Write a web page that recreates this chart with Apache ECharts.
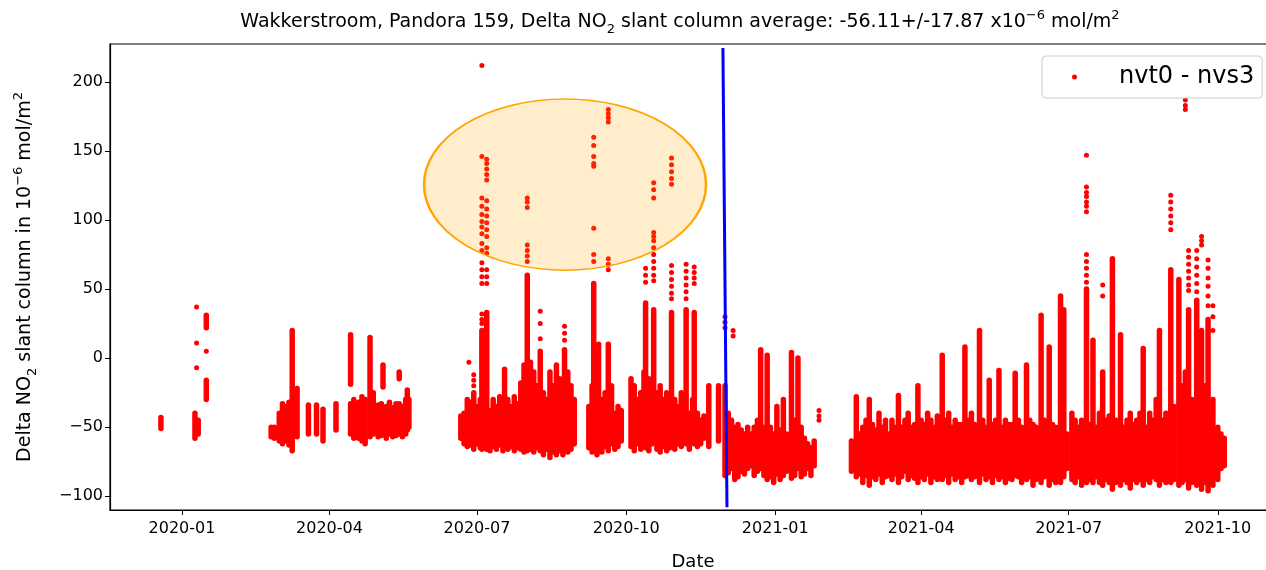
<!DOCTYPE html>
<html><head><meta charset="utf-8">
<script src="https://cdn.jsdelivr.net/npm/echarts@6/dist/echarts.min.js"></script>
<style>html,body{margin:0;padding:0;background:#fff}#c{width:1266px;height:570px}</style>
</head><body><div id="c"></div>
<script>
const seriesName = 'nvt0 - nvs3';
const titleText = '{a|Wakkerstroom, Pandora 159, Delta NO}{b|2}{a| slant column average: -56.11+/-17.87 x10}{p|−6}{a| mol/m}{p|2}';
const yAxisTitle = '{a|Delta NO}{b|2}{a| slant column in 10}{p|−6}{a| mol/m}{p|2}';
const xAxisTitle = 'Date';
const xTickLabels = ['2020-01','2020-04','2020-07','2020-10','2021-01','2021-04','2021-07','2021-10'];
const yTickValues = [-100,-50,0,50,100,150,200];
const xRange = ['2019-11-17T14:00Z','2021-11-05T22:00Z'];
const yRange = [-110, 227.5];

// vertical runs of densely packed measurements: [date, low, high]
const runsEarly = [
 ["2019-12-19",-51,-43],["2020-01-09",-58,-40],["2020-01-11",-55,-45],["2020-01-16",-30,-16],["2020-01-16",22,31],
 ["2020-02-25",-57,-50],["2020-02-27",-58,-50],["2020-03-01",-60,-40],["2020-03-03",-62,-33],["2020-03-05",-60,-35],
 ["2020-03-07",-63,-32],["2020-03-09",-67,20],["2020-03-12",-57,-22],["2020-03-19",-55,-34],["2020-03-24",-55,-34],
 ["2020-03-28",-60,-37],["2020-04-05",-52,-33],["2020-04-14",-19,17],["2020-04-14",-55,-33],["2020-04-16",-58,-30],
 ["2020-04-19",-58,-32],["2020-04-21",-60,-28],["2020-04-23",-62,-30],["2020-04-26",-57,15],["2020-04-28",-55,-25],
 ["2020-05-01",-57,-34],["2020-05-03",-56,-33],["2020-05-04",-21,-5],["2020-05-06",-58,-35],["2020-05-08",-55,-32],
 ["2020-05-10",-57,-36],["2020-05-12",-56,-33],["2020-05-14",-15,-10],["2020-05-14",-55,-33],["2020-05-16",-57,-35],
 ["2020-05-18",-55,-30],["2020-05-19",-52,-23],["2020-05-20",-50,-30]
];
const runsSummer = [
 ["2020-06-21",-58,-42],["2020-06-23",-62,-40],["2020-06-25",-64,-30],["2020-06-27",-63,-32],["2020-06-29",-66,-25],
 ["2020-07-01",-62,-35],["2020-07-03",-65,-30],["2020-07-04",-66,20],["2020-07-06",-65,-35],["2020-07-07",-66,33],
 ["2020-07-09",-67,-38],["2020-07-11",-64,-30],["2020-07-13",-66,-35],["2020-07-15",-63,-28],["2020-07-17",-67,-33],
 ["2020-07-18",-60,-8],["2020-07-20",-66,-30],["2020-07-22",-64,-35],["2020-07-24",-67,-28],["2020-07-26",-65,-33],
 ["2020-07-28",-66,-18],["2020-07-30",-68,-5],["2020-08-01",-67,60],["2020-08-03",-66,-3],["2020-08-05",-68,-10],
 ["2020-08-07",-65,-20],["2020-08-09",-67,5],["2020-08-11",-70,-25],["2020-08-13",-66,-30],["2020-08-15",-72,-10],
 ["2020-08-17",-68,-20],["2020-08-19",-70,-5],["2020-08-21",-67,-15],["2020-08-23",-70,-25],["2020-08-24",-65,6],
 ["2020-08-26",-68,-10],["2020-08-28",-66,-20],["2020-08-30",-62,-30],
 ["2020-09-08",-65,-35],["2020-09-10",-68,-20],["2020-09-11",-66,54],["2020-09-13",-70,-10],["2020-09-14",-66,10],
 ["2020-09-16",-68,-30],["2020-09-18",-64,-25],["2020-09-20",-67,10],["2020-09-22",-62,-20],["2020-09-24",-66,-40],
 ["2020-09-26",-64,-35],["2020-09-28",-60,-38],
 ["2020-10-04",-64,-15],["2020-10-06",-67,-20],["2020-10-08",-62,-30],["2020-10-10",-66,-25],["2020-10-12",-64,-10],
 ["2020-10-13",-65,40],["2020-10-15",-67,-15],["2020-10-17",-62,-17],["2020-10-18",-60,35],["2020-10-20",-66,-25],
 ["2020-10-22",-68,-20],["2020-10-24",-64,-30],["2020-10-26",-67,-25],["2020-10-28",-65,-35],["2020-10-29",-63,33],
 ["2020-10-31",-66,-30],["2020-11-02",-62,-35],["2020-11-04",-64,-25],["2020-11-07",-62,35],["2020-11-09",-66,-40],
 ["2020-11-11",-60,-30],["2020-11-12",-62,33],["2020-11-14",-64,-40],["2020-11-16",-62,-45],["2020-11-18",-58,-42],
 ["2020-11-21",-64,-20],["2020-11-27",-60,-20]
];
const runsWinter = [
 ["2020-12-01",-85,-20],["2020-12-03",-83,-40],["2020-12-05",-80,-45],["2020-12-07",-88,-50],["2020-12-09",-86,-48],
 ["2020-12-11",-82,-52],["2020-12-13",-84,-55],["2020-12-15",-80,-50],["2020-12-17",-78,-55],["2020-12-19",-85,-50],
 ["2020-12-21",-82,-45],["2020-12-23",-80,6],["2020-12-25",-85,-50],["2020-12-27",-88,2],["2020-12-29",-86,-50],
 ["2020-12-31",-90,-55],["2021-01-02",-84,-35],["2021-01-04",-88,-52],["2021-01-06",-85,-30],["2021-01-08",-82,-55],
 ["2021-01-11",-87,4],["2021-01-13",-85,-45],["2021-01-15",-80,0],["2021-01-17",-86,-50],["2021-01-19",-84,-58],
 ["2021-01-21",-80,-62],["2021-01-23",-85,-65],["2021-01-25",-78,-60]
];
const runs2021 = [
 ["2021-02-17",-82,-60],["2021-02-20",-86,-28],["2021-02-22",-84,-55],["2021-02-24",-90,-50],["2021-02-26",-85,-45],
 ["2021-02-28",-92,-30],["2021-03-02",-86,-48],["2021-03-04",-88,-52],["2021-03-06",-84,-40],["2021-03-08",-90,-50],
 ["2021-03-10",-86,-45],["2021-03-12",-85,-55],["2021-03-14",-88,-45],["2021-03-16",-84,-50],["2021-03-18",-90,-27],
 ["2021-03-20",-86,-50],["2021-03-22",-82,-45],["2021-03-24",-88,-40],["2021-03-26",-85,-50],["2021-03-28",-87,-48],
 ["2021-03-30",-90,-20],["2021-04-01",-86,-45],["2021-04-03",-88,-48],["2021-04-05",-84,-40],["2021-04-07",-90,-45],
 ["2021-04-09",-86,-50],["2021-04-11",-88,-42],["2021-04-14",-88,2],["2021-04-16",-85,-45],["2021-04-18",-90,-40],
 ["2021-04-20",-84,-50],["2021-04-22",-88,-45],["2021-04-24",-86,-48],["2021-04-26",-90,-48],["2021-04-28",-86,8],
 ["2021-04-30",-85,-45],["2021-05-02",-88,-40],["2021-05-04",-86,-48],["2021-05-07",-90,20],["2021-05-09",-84,-45],
 ["2021-05-11",-88,-50],["2021-05-13",-86,-16],["2021-05-15",-90,-48],["2021-05-17",-85,-45],["2021-05-19",-88,-9],
 ["2021-05-21",-86,-50],["2021-05-23",-90,-45],["2021-05-25",-87,-48],["2021-05-27",-88,-48],["2021-05-29",-85,-11],
 ["2021-05-31",-86,-45],["2021-06-02",-90,-50],["2021-06-05",-88,-5],["2021-06-07",-86,-45],["2021-06-09",-92,-48],
 ["2021-06-11",-88,-50],["2021-06-14",-90,31],["2021-06-16",-86,-45],["2021-06-19",-92,8],["2021-06-21",-88,-48],
 ["2021-06-23",-90,-50],["2021-06-26",-90,45],["2021-06-28",-86,35],["2021-06-30",-80,-55],["2021-07-03",-88,-40],
 ["2021-07-05",-90,-45],["2021-07-07",-86,-50],["2021-07-09",-92,-45],["2021-07-12",-90,50],["2021-07-14",-88,-48],
 ["2021-07-16",-90,13],["2021-07-18",-86,-50],["2021-07-20",-90,-40],["2021-07-22",-92,-10],["2021-07-24",-88,-45],
 ["2021-07-26",-90,-42],["2021-07-28",-95,72],["2021-07-30",-90,-45],["2021-08-02",-92,17],["2021-08-04",-88,-50],
 ["2021-08-06",-90,-45],["2021-08-08",-94,-40],["2021-08-10",-88,-48],["2021-08-12",-90,-45],["2021-08-14",-88,-40],
 ["2021-08-16",-92,7],["2021-08-18",-88,-50],["2021-08-20",-90,-40],["2021-08-22",-86,-45],["2021-08-24",-88,-30],
 ["2021-08-26",-92,20],["2021-08-28",-88,-45],["2021-08-30",-90,-40],["2021-09-02",-90,64],["2021-09-04",-88,-35],
 ["2021-09-07",-92,57],["2021-09-09",-90,-20],["2021-09-11",-88,-10],["2021-09-13",-94,35],["2021-09-15",-90,-30],
 ["2021-09-18",-92,42],["2021-09-21",-95,20],["2021-09-23",-90,-20],["2021-09-25",-96,28],["2021-09-27",-90,-40],
 ["2021-09-28",-92,-30],["2021-10-01",-88,-50],["2021-10-03",-80,-55],["2021-10-05",-78,-58]
];

// isolated measurements: [date, [values]]
const spikesEarly = [["2020-01-10",[37,11,-7]],["2020-01-16",[5]]];
const spikesSummer = [
 ["2020-06-26",[-3]],["2020-06-29",[-12,-16,-20]],
 ["2020-07-04",[212,146,116,110,104,99,95,90,83,78,69,64,59,54,32,28,25]],
 ["2020-07-07",[144,141,137,133,129,114,108,103,98,93,88,80,76,64,59,54]],
 ["2020-08-01",[116,113,109,82,78,74,70]],["2020-08-09",[34,25,14]],["2020-08-24",[23,18,13]],
 ["2020-09-11",[160,154,146,141,139,94,75,70]],["2020-09-20",[180,177,174,171,72,68,64]],
 ["2020-10-13",[65,60,55]],["2020-10-18",[127,122,116,91,88,85,80,75,70,65,60,56]],
 ["2020-10-29",[145,140,135,130,126,67,62,57,52,47,43]],["2020-11-07",[68,63,58,53,48,43]],
 ["2020-11-12",[66,62,58,54]]
];
const spikesWinter = [["2020-12-01",[30,26,22]],["2020-12-06",[20,16]],["2021-01-28",[-38,-42,-45]]];
const spikes2021 = [
 ["2021-07-12",[147,124,120,117,113,110,106,75,70,65,60,55]],["2021-07-22",[53,45]],
 ["2021-09-02",[118,113,108,103,98,93]],["2021-09-11",[187,183,180]],["2021-09-13",[78,73,68,63,58,53,49]],
 ["2021-09-18",[78,72,66,60,54,48]],["2021-09-21",[88,85,82]],["2021-09-25",[71,65,58,52,45,38]],
 ["2021-09-28",[38,30,20]]
];

// annotations
const changeLine = [['2020-11-29T17:00Z',224.6],['2020-12-02T05:00Z',-108]];
const highlightCenter = ['2020-08-24T07:00Z',125.7];
const highlightHalfSize = [87, 62]; // days, value units

const t = s => Date.parse(s.length === 10 ? s + 'T00:00Z' : s);
const DAY = 86400000;
const runs = [].concat(runsEarly, runsSummer, runsWinter, runs2021).map(r => [t(r[0]), r[1], r[2]]);
const points = [];
[].concat(spikesEarly, spikesSummer, spikesWinter, spikes2021).forEach(g => g[1].forEach(v => points.push([t(g[0]), v])));
const xTickValues = xTickLabels.map(s => t(s + '-01'));
const FONT = 'DejaVu Sans';
const richMath = size => ({
  a: {fontFamily: FONT, fontSize: size, lineHeight: size + 8, color: '#000'},
  b: {fontFamily: FONT, fontSize: Math.round(size * 0.7), lineHeight: Math.round(size * 0.85), verticalAlign: 'bottom', color: '#000'},
  p: {fontFamily: FONT, fontSize: Math.round(size * 0.7), lineHeight: Math.round(size * 0.85), verticalAlign: 'top', color: '#000'}
});

const chart = echarts.init(document.getElementById('c'), null, {renderer: 'canvas'});
chart.setOption({
  animation: false,
  backgroundColor: '#fff',
  title: {
    text: titleText, left: 675, top: 4, textAlign: 'center',
    textStyle: {fontFamily: FONT, fontSize: 19, fontWeight: 'normal', color: '#000', rich: richMath(19)}
  },
  legend: {
    data: [{name: seriesName, icon: 'circle', itemStyle: {color: '#ff0000'}}],
    left: 1042, top: 56, orient: 'horizontal',
    itemWidth: 5, itemHeight: 5,
    padding: [9, 8, 9, 30],
    backgroundColor: 'rgba(255,255,255,0.85)', borderColor: '#cccccc', borderWidth: 1, borderRadius: 4,
    formatter: n => '{p|}' + n,
    textStyle: {fontFamily: FONT, fontSize: 24, color: '#000', rich: {p: {width: 37}}},
    selectedMode: false
  },
  grid: {left: 110, top: 44, width: 1166, height: 466, outerBoundsMode: 'none', containLabel: false,
    show: true, borderColor: '#000', borderWidth: 1.2, backgroundColor: 'transparent'},
  xAxis: {
    type: 'value', min: t(xRange[0]), max: t(xRange[1]),
    name: xAxisTitle, nameLocation: 'middle', nameGap: 43,
    nameTextStyle: {fontFamily: FONT, fontSize: 18, color: '#000'},
    axisLine: {show: true, onZero: false, lineStyle: {color: '#000', width: 1.2}},
    axisTick: {show: true, length: 5, customValues: xTickValues, lineStyle: {color: '#000', width: 1}},
    axisLabel: {customValues: xTickValues, margin: 11, fontFamily: FONT, fontSize: 16, color: '#000',
      formatter: v => xTickLabels[xTickValues.indexOf(v)] || ''},
    splitLine: {show: false}
  },
  yAxis: {
    type: 'value', min: yRange[0], max: yRange[1],
    name: yAxisTitle, nameLocation: 'middle', nameGap: 71, nameRotate: 90,
    nameTextStyle: {fontFamily: FONT, fontSize: 19, color: '#000', rich: richMath(19)},
    axisLine: {show: true, onZero: false, lineStyle: {color: '#000', width: 1.2}},
    axisTick: {show: true, length: 5, customValues: yTickValues, lineStyle: {color: '#000', width: 1}},
    axisLabel: {customValues: yTickValues, margin: 7, fontFamily: FONT, fontSize: 16, color: '#000',
      formatter: v => String(v).replace('-', '\u2212')},
    splitLine: {show: false}
  },
  series: [
    {
      name: seriesName, type: 'custom', data: runs, encode: {x: 0, y: [1, 2]}, z: 2, clip: true,
      itemStyle: {color: '#ff0000'},
      renderItem: (params, api) => {
        const a = api.coord([api.value(0), api.value(1)]);
        const b = api.coord([api.value(0), api.value(2)]);
        return {type: 'line', shape: {x1: a[0], y1: a[1], x2: b[0], y2: b[1]},
          style: {stroke: '#ff0000', lineWidth: 5.5, lineCap: 'round'}};
      }
    },
    {
      name: seriesName, type: 'scatter', data: points, symbol: 'circle', symbolSize: 5, z: 3,
      itemStyle: {color: '#ff0000', opacity: 1}
    },
    {
      name: 'highlight', type: 'custom', data: [[t(highlightCenter[0]), highlightCenter[1]]], z: 5, silent: true,
      renderItem: (params, api) => {
        const c = api.coord([api.value(0), api.value(1)]);
        const s = api.size([highlightHalfSize[0] * DAY, highlightHalfSize[1]]);
        return {type: 'circle', x: c[0], y: c[1], scaleX: s[0] / s[1], scaleY: 1,
          shape: {cx: 0, cy: 0, r: s[1]},
          style: {fill: 'rgba(255,165,0,0.2)', stroke: '#ffa500', lineWidth: 1.5, strokeNoScale: true}};
      }
    },
    {
      name: 'change', type: 'line', data: changeLine.map(p => [t(p[0]), p[1]]), z: 6, silent: true,
      symbol: 'none', lineStyle: {color: '#0000ff', width: 3}
    }
  ]
});
</script>
</body></html>
